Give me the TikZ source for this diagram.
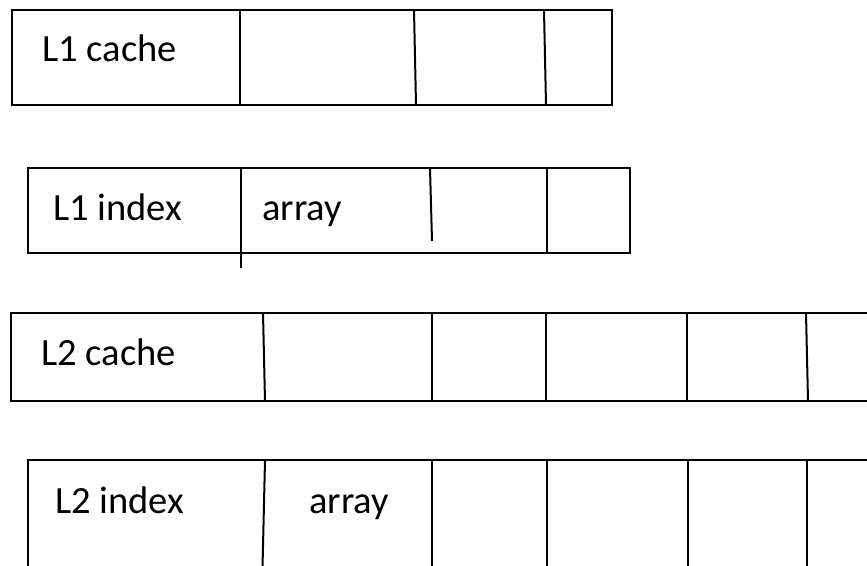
\documentclass[tikz,border=0pt]{standalone}
\usepackage{fontspec}
\setmainfont{Carlito}
\usetikzlibrary{positioning}
\tikzset{
  frame/.style={draw=black, line width=2.4pt, line join=miter},
  divider/.style={black, line width=2pt},
  lbl/.style={font=\fontsize{38.5}{44}\selectfont, anchor=base west, inner sep=0pt},
}

\begin{document}
\begin{tikzpicture}[x=1pt,y=-1pt]
    \useasboundingbox (0,0) rectangle (867,565);
    \clip (0,0) rectangle (867,565);
    % L1 cache row
    \draw[frame] (12,10) rectangle (612,105);
    \draw[divider] (240,10) -- (240,105);
    \draw[divider] (414,10) -- (416,105);
    \draw[divider] (544,10) -- (546,105);
    \node[lbl] (l1cache) at (42,61) {L1 cache};
    % L1 index row
    \draw[frame] (28,168) rectangle (630,253);
    \draw[divider] (241,168) -- (241,268);
    \draw[divider] (430,168) -- (432,241);
    \draw[divider] (547,168) -- (547,253);
    \node[lbl] (l1index) at (53,220) {L1 index};
    \node[lbl] (l1array) at (262,220) {array};
    % L2 cache row, runs off the right edge
    \draw[frame] (11,313) rectangle (890,401);
    \foreach \xt/\xb in {263/265,432/432,546/546,687/687,806/808}
      \draw[divider] (\xt,313) -- (\xb,401);
    \node[lbl] (l2cache) at (41,365) {L2 cache};
    % L2 index row, runs off the right and bottom edges
    \draw[frame] (28,590) -- (28,460) -- (890,460);
    \foreach \xt/\xb in {265/262,432/432,547/547,688/688,807/807}
      \draw[divider] (\xt,460) -- (\xb,590);
    \node[lbl] (l2index) at (55,513) {L2 index};
    \node[lbl] (l2array) at (309,513) {array};
\end{tikzpicture}
\end{document}
